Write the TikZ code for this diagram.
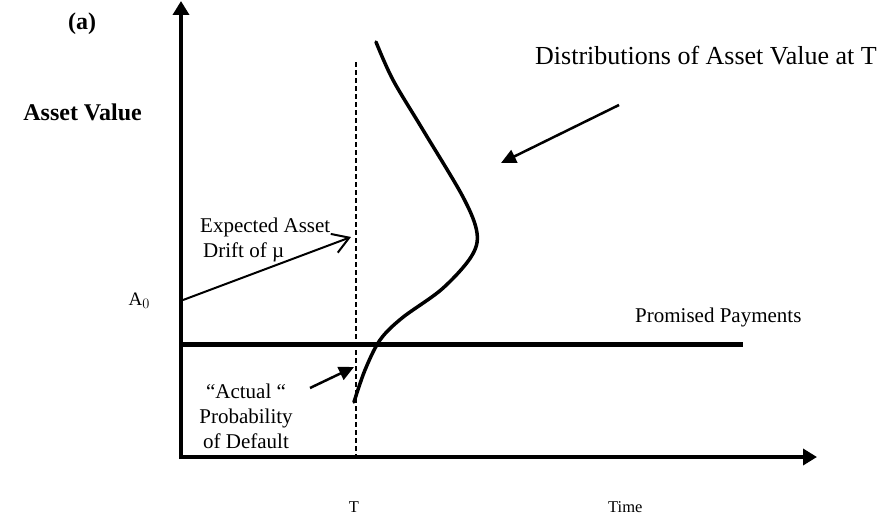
\documentclass[tikz,border=0pt]{standalone}
\usepackage{fontspec}
\setmainfont{Liberation Serif}
\usetikzlibrary{arrows.meta}
\tikzset{
  axisline/.style={line width=4pt, -{Triangle[length=14pt,width=16pt]}},
  payline/.style={line width=5pt},
  tline/.style={line width=2pt, dash pattern=on 5pt off 3pt},
  distcurve/.style={line width=3.5pt, line cap=round},
  driftarrow/.style={line width=2pt, -{Straight Barb[length=16pt,width=20pt]}},
  fillarrow/.style={line width=2.5pt, -{Triangle[length=15pt,width=14pt]}},
  lbl/.style={inner sep=0pt, font=\fontsize{21}{25}\selectfont},
  small/.style={inner sep=0pt, font=\fontsize{16.5}{20}\selectfont},
  boldlbl/.style={inner sep=0pt, font=\fontsize{24}{28}\selectfont\bfseries},
}
\begin{document}
\begin{tikzpicture}[x=1pt,y=-1pt]
\useasboundingbox (0,0) rectangle (882,519);
% axes
\coordinate (ybot) at (181,459);
\coordinate (ytop) at (181,1);
\coordinate (xend) at (817,457);
\coordinate (xstart) at (179,457);
\draw[axisline] (ybot) -- (ytop);
\draw[axisline] (xstart) -- (xend);
% promised payments line
\coordinate (p1) at (181,344);
\coordinate (p2) at (743,344);
\draw[payline] (p1) -- (p2);
% dashed T line
\coordinate (t1) at (356,62);
\coordinate (t2) at (356,460);
\draw[tline] (t1) -- (t2);
% distribution curve
\draw[distcurve] plot[smooth, tension=0.55] coordinates {
 (376,42) (393,80) (423,130) (463,197) (477,233) (471,257) (442,289) (402,318) (380,340) (365,370) (354,402)};
% labels
\node[boldlbl, anchor=base] (a) at (82,30) {(a)};
\node[boldlbl, anchor=base east] (av) at (142,120) {Asset Value};
\node[inner sep=0pt, anchor=base east, font=\fontsize{19}{21}\selectfont] (a0) at (150,305) {A$_0$};
\node[lbl, anchor=base west, align=left] (exp) at (200,257) {Expected Asset\\\hspace*{3pt}Drift of \textmu};
\node[lbl, anchor=base, align=center] (act) at (246,448) {“Actual “\\Probability\\of Default};
\node[lbl, anchor=base west] (pp) at (635,322) {Promised Payments};
\node[inner sep=0pt, anchor=base west, font=\fontsize{26}{30}\selectfont] (dist) at (535,64) {Distributions of Asset Value at T};
\node[small, anchor=base] (tl) at (354,512) {T};
\node[small, anchor=base west] (time) at (608,512) {Time};
% arrows
\coordinate (d0) at (183,300);
\coordinate (d1) at (351,237);
\draw[driftarrow] (d0) -- (d1);
\coordinate (c0) at (310,388);
\coordinate (c1) at (354,367);
\draw[fillarrow] (c0) -- (c1);
\coordinate (e0) at (619,105);
\coordinate (e1) at (501,163);
\draw[fillarrow] (e0) -- (e1);
\end{tikzpicture}
\end{document}
